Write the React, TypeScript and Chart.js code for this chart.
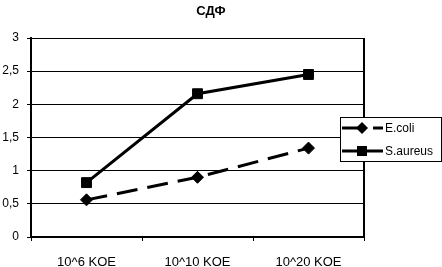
import React, { useEffect, useRef } from "react";
import { Chart, registerables } from "chart.js";

Chart.register(...registerables);

const titleText = "СДФ";
const categories = ["10^6 KOE", "10^10 KOE", "10^20 KOE"];
const seriesNames = ["E.coli", "S.aureus"];
const ecoliValues = [0.56, 0.9, 1.34];
const saureusValues = [0.82, 2.16, 2.45];
const yMin = 0;
const yMax = 3;
const yStep = 0.5;

const FONT = "'Liberation Sans', Arial, sans-serif";

const decorPlugin = {
  id: "decor",
  afterDraw(chart: any) {
    const ctx = chart.ctx as CanvasRenderingContext2D;
    const area = chart.chartArea;
    ctx.save();
    // right border of plot area
    ctx.strokeStyle = "#000";
    ctx.lineWidth = 2;
    ctx.beginPath();
    ctx.moveTo(area.right, area.top);
    ctx.lineTo(area.right, area.bottom + 1);
    ctx.stroke();

    // title
    ctx.fillStyle = "#000";
    ctx.font = `bold 13px ${FONT}`;
    ctx.textAlign = "center";
    ctx.textBaseline = "middle";
    ctx.fillText(titleText, 211, 11);

    // legend box
    const bx = 340.5, by = 117.5, bw = 101, bh = 44;
    ctx.fillStyle = "#fff";
    ctx.fillRect(bx, by, bw, bh);
    ctx.strokeStyle = "#000";
    ctx.lineWidth = 1;
    ctx.strokeRect(bx, by, bw, bh);

    const rows = [
      { y: 128, dash: [21, 10], style: "diamond", label: seriesNames[0] },
      { y: 151, dash: [] as number[], style: "square", label: seriesNames[1] },
    ];
    rows.forEach((r) => {
      ctx.save();
      ctx.strokeStyle = "#000";
      ctx.lineWidth = 3;
      ctx.setLineDash(r.dash);
      ctx.beginPath();
      ctx.moveTo(342, r.y);
      ctx.lineTo(383, r.y);
      ctx.stroke();
      ctx.restore();
      ctx.fillStyle = "#000";
      ctx.beginPath();
      if (r.style === "diamond") {
        const s = 6;
        ctx.moveTo(362 - s, r.y);
        ctx.lineTo(362, r.y - s);
        ctx.lineTo(362 + s, r.y);
        ctx.lineTo(362, r.y + s);
        ctx.closePath();
      } else {
        ctx.rect(357, r.y - 5, 10, 10);
      }
      ctx.fill();
      ctx.font = `12px ${FONT}`;
      ctx.textAlign = "left";
      ctx.textBaseline = "middle";
      ctx.fillText(r.label, 385, r.y + 1);
    });
    ctx.restore();
  },
};

export default function App() {
  const ref = useRef<HTMLCanvasElement | null>(null);
  useEffect(() => {
    if (!ref.current) return;
    const chart = new Chart(ref.current, {
      type: "line",
      data: {
        labels: categories,
        datasets: [
          {
            label: seriesNames[0],
            data: ecoliValues,
            borderColor: "#000",
            backgroundColor: "#000",
            borderWidth: 3,
            borderDash: [21, 10],
            pointStyle: "rectRot",
            pointRadius: 6,
            pointBorderWidth: 1,
            tension: 0,
          },
          {
            label: seriesNames[1],
            data: saureusValues,
            borderColor: "#000",
            backgroundColor: "#000",
            borderWidth: 3,
            pointStyle: "rect",
            pointRadius: 7,
            pointBorderWidth: 1,
            tension: 0,
          },
        ],
      },
      options: {
        responsive: false,
        animation: false,
        layout: { padding: { top: 38, right: 78, left: 0, bottom: 0 } },
        plugins: {
          legend: { display: false },
          title: { display: false },
          tooltip: { enabled: false },
        },
        scales: {
          x: {
            type: "category",
            offset: true,
            afterFit: (s: any) => {
              s.height = 30;
            },
            grid: {
              offset: true,
              drawOnChartArea: false,
              drawTicks: true,
              tickLength: 4,
              color: "#000",
              lineWidth: 1,
            },
            border: { display: true, color: "#000", width: 2 },
            ticks: {
              color: "#000",
              font: { family: FONT, size: 13 },
              padding: 14,
              maxRotation: 0,
            },
          },
          y: {
            min: yMin,
            max: yMax,
            afterFit: (s: any) => {
              s.width = 31;
            },
            grid: {
              color: "#000",
              lineWidth: 1,
              drawTicks: true,
              tickLength: 4,
            },
            border: { display: true, color: "#000", width: 2 },
            ticks: {
              stepSize: yStep,
              color: "#000",
              font: { family: FONT, size: 12 },
              padding: 8,
              callback: (v: any) => String(v).replace(".", ","),
            },
          },
        },
      },
      plugins: [decorPlugin],
    });
    return () => chart.destroy();
  }, []);
  return (
    <div style={{ position: "absolute", left: 0, top: 0, width: 442, height: 267, background: "#fff" }}>
      <canvas ref={ref} width={442} height={267} />
    </div>
  );
}
